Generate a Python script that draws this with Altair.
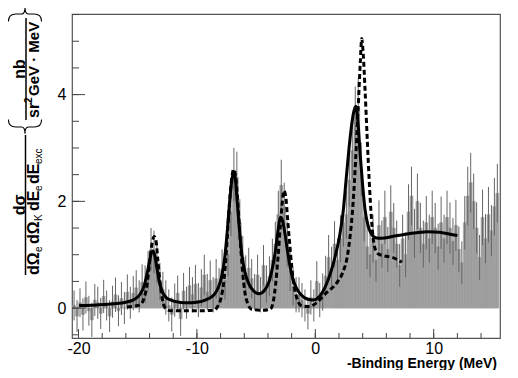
import altair as alt
import pandas as pd

FONT = "Liberation Sans"

# ---------------- data ----------------
bin_lo = -20.5
bin_w = 0.25
hist_vals = [
    0.05, -0.15, 0.10, -0.12,
    0.20, -0.05, -0.22, 0.15,
    0.10, -0.10, 0.22, 0.05,
    -0.15, 0.12, 0.25, -0.05,
    0.18, 0.00, 0.30, 0.10,
    0.28, 0.38, 0.22, 0.48,
    0.45, 0.70, 1.10, 1.05,
    0.85, 0.50, 0.35, 0.20,
    0.05, -0.12, 0.15, 0.28,
    -0.20, 0.32, 0.10, 0.42,
    0.25, 0.45, 0.15, 0.38,
    0.62, 0.30, 0.52, 0.25,
    0.55, 0.40, 0.72, 0.52,
    1.00, 1.80, 2.50, 2.45,
    1.60, 0.95, 0.62, 0.75,
    0.55, 0.30, 0.62, 0.25,
    0.80, 0.45, 0.60, 0.90,
    1.20, 1.75, 2.30, 1.90,
    1.20, 0.70, 0.40, 0.25,
    0.25, 0.15, 0.05, -0.10,
    0.20, 0.05, 0.50, 0.15,
    0.30, 0.60, 0.95, 0.75,
    1.20, 0.90, 1.30, 1.60,
    1.75, 2.40, 2.95, 3.60,
    3.75, 2.60, 1.70, 1.15,
    1.00, 1.30, 0.90, 1.55,
    1.20, 1.70, 1.10, 1.80,
    1.50, 1.20, 0.80, 1.30,
    1.00, 1.80, 2.10, 1.40,
    2.00, 1.50, 1.20, 1.60,
    1.30, 1.70, 1.50, 1.15,
    1.60, 1.30, 1.70, 1.50,
    1.25, 1.55, 1.10, 0.85,
    1.60, 2.10, 2.35, 2.00,
    1.50, 0.95, 1.70, 1.30,
    1.75, 1.45, 1.90, 2.15,
]
hist_errs = [
    0.28, 0.30, 0.27, 0.30,
    0.30, 0.28, 0.32, 0.30,
    0.30, 0.29, 0.31, 0.28,
    0.30, 0.30, 0.32, 0.29,
    0.31, 0.30, 0.33, 0.30,
    0.32, 0.33, 0.30, 0.34,
    0.35, 0.37, 0.40, 0.40,
    0.38, 0.35, 0.33, 0.32,
    0.30, 0.32, 0.31, 0.33,
    0.32, 0.34, 0.30, 0.35,
    0.33, 0.36, 0.32, 0.35,
    0.38, 0.34, 0.37, 0.33,
    0.37, 0.35, 0.38, 0.36,
    0.40, 0.45, 0.50, 0.48,
    0.44, 0.40, 0.37, 0.38,
    0.37, 0.34, 0.38, 0.33,
    0.38, 0.35, 0.37, 0.40,
    0.42, 0.45, 0.48, 0.45,
    0.42, 0.38, 0.35, 0.33,
    0.33, 0.32, 0.30, 0.30,
    0.32, 0.30, 0.38, 0.32,
    0.35, 0.38, 0.42, 0.40,
    0.43, 0.40, 0.44, 0.45,
    0.45, 0.50, 0.52, 0.55,
    0.55, 0.50, 0.45, 0.42,
    0.42, 0.45, 0.40, 0.47,
    0.44, 0.50, 0.42, 0.50,
    0.47, 0.44, 0.40, 0.45,
    0.42, 0.52, 0.55, 0.46,
    0.52, 0.47, 0.44, 0.50,
    0.45, 0.50, 0.47, 0.43,
    0.49, 0.45, 0.50, 0.48,
    0.44, 0.48, 0.43, 0.40,
    0.50, 0.55, 0.56, 0.52,
    0.48, 0.42, 0.52, 0.46,
    0.52, 0.48, 0.54, 0.55,
]

solid_x = [-19.95, -18.5, -17.0, -16.0, -15.3, -14.8, -14.45, -14.2, -14.0, -13.85,
           -13.7, -13.55, -13.4, -13.2, -12.95, -12.6, -12.2, -11.5, -10.8, -10.0,
           -9.2, -8.6, -8.2, -7.9, -7.65, -7.45, -7.25, -7.05, -6.9, -6.75,
           -6.6, -6.4, -6.2, -5.95, -5.6, -5.2, -4.75, -4.3, -3.9, -3.6,
           -3.35, -3.15, -2.95, -2.8, -2.6, -2.4, -2.15, -1.9, -1.6, -1.2,
           -0.7, -0.2, 0.35, 0.8, 1.2, 1.6, 2.05, 2.35, 2.6, 2.85,
           3.05, 3.25, 3.42, 3.6, 3.8, 4.0, 4.2, 4.45, 4.7, 5.1,
           5.6, 6.5, 7.5, 8.5, 9.5, 10.5, 11.3, 12.0]
solid_y = [0.05, 0.06, 0.08, 0.11, 0.16, 0.26, 0.42, 0.66, 0.88, 1.03,
           1.07, 0.98, 0.78, 0.52, 0.32, 0.20, 0.15, 0.11, 0.10, 0.11,
           0.16, 0.24, 0.38, 0.60, 0.95, 1.40, 1.95, 2.40, 2.56, 2.42,
           2.00, 1.45, 1.00, 0.68, 0.45, 0.32, 0.27, 0.33, 0.50, 0.78,
           1.10, 1.45, 1.70, 1.66, 1.45, 1.15, 0.80, 0.55, 0.38, 0.25,
           0.17, 0.15, 0.22, 0.38, 0.60, 0.90, 1.35, 1.80, 2.40, 3.00,
           3.40, 3.68, 3.78, 3.50, 2.85, 2.30, 1.85, 1.55, 1.40, 1.32,
           1.31, 1.34, 1.38, 1.41, 1.43, 1.42, 1.39, 1.36]

dash_x = [-15.9, -15.2, -14.75, -14.45, -14.2, -14.0, -13.8, -13.6, -13.45, -13.3,
          -13.1, -12.9, -12.6, -12.2, -10.0, -8.6, -8.2, -7.95, -7.7, -7.5,
          -7.3, -7.1, -6.9, -6.75, -6.55, -6.35, -6.15, -5.95, -5.7, -5.4,
          -4.5, -3.8, -3.55, -3.35, -3.15, -2.95, -2.8, -2.65, -2.5, -2.35,
          -2.2, -2.0, -1.8, -1.55, -1.2, -0.5, 0.1, 0.9, 1.8, 2.3,
          2.75, 3.2, 3.6, 3.8, 3.92, 4.05, 4.2, 4.38, 4.55, 4.75,
          5.0, 5.3, 5.8, 6.5, 7.3]
dash_y = [0.02, 0.04, 0.07, 0.20, 0.45, 0.85, 1.20, 1.34, 1.25, 0.90,
          0.45, 0.15, -0.02, -0.05, -0.05, -0.04, 0.05, 0.20, 0.55, 1.10,
          1.80, 2.35, 2.60, 2.50, 2.00, 1.30, 0.70, 0.30, 0.08, -0.02,
          -0.04, -0.02, 0.12, 0.45, 0.95, 1.55, 1.95, 2.20, 2.10, 1.70,
          1.30, 0.80, 0.42, 0.18, 0.05, 0.03, 0.10, 0.28, 0.47, 0.66,
          1.03, 2.00, 3.65, 4.60, 5.05, 4.75, 4.10, 3.20, 2.40, 1.65,
          1.15, 1.02, 0.98, 0.95, 0.86]

x_labels = [-20, -10, 0, 10]
y_labels = [0, 2, 4]
x_minor_ticks = [-20, -18, -16, -14, -12, -10, -8, -6, -4, -2, 0, 2, 4, 6, 8, 10, 12, 14]
x_major_ticks = [-20, -10, 0, 10]
y_minor_ticks = [-0.5, 0, 0.5, 1, 1.5, 2, 2.5, 3, 3.5, 4, 4.5, 5, 5.5]
y_major_ticks = [0, 2, 4]

# ---------------- tables ----------------
n = len(hist_vals)
lo = [bin_lo + i * bin_w for i in range(n)]
hist = pd.DataFrame({
    "lo": lo,
    "hi": [v + bin_w for v in lo],
    "mid": [v + bin_w / 2 for v in lo],
    "v": hist_vals,
    "base": [0.0] * n,
    "elo": [v - e for v, e in zip(hist_vals, hist_errs)],
    "ehi": [v + e for v, e in zip(hist_vals, hist_errs)],
})
solid = pd.DataFrame({"x": solid_x, "y": solid_y})
dashed = pd.DataFrame({"x": dash_x, "y": dash_y})

W, H = 428, 324
XS = alt.Scale(domain=[-20.55, 15.6], nice=False, zero=False)
YS = alt.Scale(domain=[-0.56, 5.51], nice=False, zero=False)

xaxis = alt.Axis(values=x_labels, title=None, labelPadding=2, tickSize=0,
                 labelExpr="'' + datum.value")
yaxis = alt.Axis(values=y_labels, title=None, labelPadding=6, tickSize=0,
                 labelExpr="'' + datum.value")

BAR = "#9e9e9e"
bars = alt.Chart(hist).mark_bar(color=BAR, stroke=BAR, strokeWidth=0.6, opacity=1).encode(
    x=alt.X("lo:Q", scale=XS, axis=xaxis),
    x2="hi:Q",
    y=alt.Y("v:Q", scale=YS, axis=yaxis),
    y2="base:Q",
)
errs = alt.Chart(hist).mark_rule(color="#666666", strokeWidth=1).encode(
    x=alt.X("mid:Q", scale=XS),
    y=alt.Y("elo:Q", scale=YS),
    y2="ehi:Q",
)
dash_line = alt.Chart(dashed).mark_line(color="black", strokeWidth=3, strokeDash=[5, 3],
                                        interpolate="monotone").encode(
    x=alt.X("x:Q", scale=XS), y=alt.Y("y:Q", scale=YS))
solid_line = alt.Chart(solid).mark_line(color="black", strokeWidth=3,
                                        interpolate="monotone").encode(
    x=alt.X("x:Q", scale=XS), y=alt.Y("y:Q", scale=YS))

TC = "#444444"
xt_min = alt.Chart(pd.DataFrame({"t": x_minor_ticks})).mark_rule(color=TC).encode(
    x=alt.X("t:Q", scale=XS), y=alt.value(H), y2=alt.value(H - 5))
xt_maj = alt.Chart(pd.DataFrame({"t": x_major_ticks})).mark_rule(color=TC).encode(
    x=alt.X("t:Q", scale=XS), y=alt.value(H), y2=alt.value(H - 9))
yt_min = alt.Chart(pd.DataFrame({"t": y_minor_ticks})).mark_rule(color=TC).encode(
    y=alt.Y("t:Q", scale=YS), x=alt.value(0), x2=alt.value(7))
yt_maj = alt.Chart(pd.DataFrame({"t": y_major_ticks})).mark_rule(color=TC).encode(
    y=alt.Y("t:Q", scale=YS), x=alt.value(0), x2=alt.value(13))


def txt(s, x, y, size, weight="bold", angle=270, align="left"):
    return alt.Chart(alt.Data(values=[{}])).mark_text(
        text=s, angle=angle, align=align, baseline="middle", fontSize=size,
        fontWeight=weight, font=FONT, color="black").encode(
        x=alt.value(x), y=alt.value(y))


def hline(x, y1, y2, w=1.5):
    return alt.Chart(alt.Data(values=[{}])).mark_rule(color="black", strokeWidth=w).encode(
        x=alt.value(x), y=alt.value(y1), y2=alt.value(y2))


# curly braces drawn as symbol paths (unit space), opening toward the units
BRACE_UP = ("M -1 -0.45 Q -1 0 -0.55 0 L -0.2 0 Q 0 0 0 0.4 "
            "Q 0 0 0.2 0 L 0.55 0 Q 1 0 1 -0.45")
BRACE_DOWN = ("M -1 0.45 Q -1 0 -0.55 0 L -0.2 0 Q 0 0 0 -0.4 "
              "Q 0 0 0.2 0 L 0.55 0 Q 1 0 1 0.45")


def brace(path, x, y):
    return alt.Chart(alt.Data(values=[{}])).mark_point(
        shape=path, filled=False, stroke="black", strokeWidth=1.1, size=1100, opacity=1).encode(
        x=alt.value(x), y=alt.value(y))


texts = [
    txt("-Binding Energy (MeV)", W - 3, H + 26, 14, angle=0, align="right"),
    # main fraction
    txt("d\u03c3", -52.5, 191, 16, align="center"),
    hline(-46.5, 121, 261),
    txt("d\u03a9", -38, 261, 16),
    txt("e", -33.5, 238, 10, weight="normal"),
    txt("d\u03a9", -38, 230, 16),
    txt("K", -33.5, 207, 10, weight="normal"),
    txt("dE", -38, 197, 16),
    txt("e", -33.5, 177, 10, weight="normal"),
    txt("dE", -38, 170, 16),
    txt("exc", -33.5, 150, 10, weight="normal"),
    # units
    brace(BRACE_UP, -47, 113),
    txt("nb", -52, 55, 16, align="center"),
    hline(-46, 4, 106),
    txt("sr", -38, 104, 16),
    txt("2", -43, 89, 10),
    txt("GeV \u00b7 MeV", -38, 82, 15),
    brace(BRACE_DOWN, -47, 0),
]

chart = alt.layer(bars, errs, dash_line, solid_line, xt_min, xt_maj, yt_min, yt_maj, *texts).properties(
    width=W, height=H,
    autosize=alt.AutoSizeParams(type="none"),
    padding={"left": 64, "top": 6, "right": 10, "bottom": 32},
).configure_view(stroke="#555555", strokeWidth=1.2).configure_axis(
    grid=False, ticks=False, domain=False, labelFont=FONT, labelFontSize=16,
    labelColor="black")

chart.save("out.html", embed_options={"renderer": "svg", "actions": False})
